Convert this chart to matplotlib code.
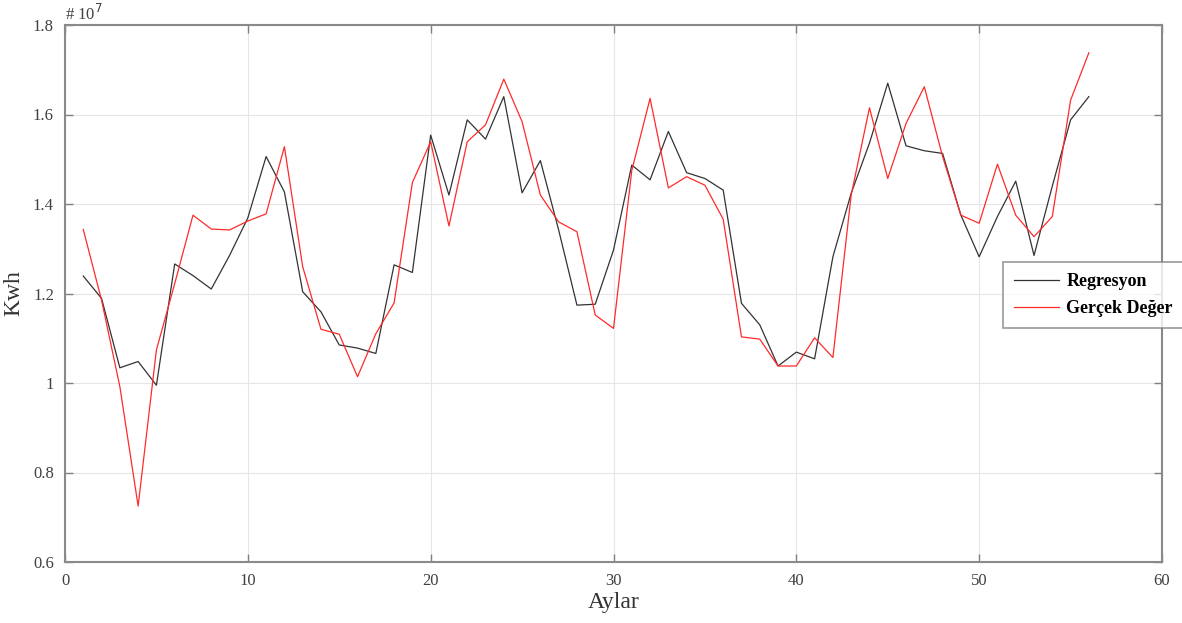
import matplotlib
matplotlib.use("Agg")
from matplotlib import pyplot as plt

aylar = list(range(1, 57))

regresyon = [1.239, 1.189, 1.034, 1.048, 0.995, 1.266, 1.240, 1.210, 1.285, 1.369,
             1.506, 1.427, 1.204, 1.159, 1.085, 1.078, 1.066, 1.264, 1.247, 1.554,
             1.420, 1.588, 1.545, 1.640, 1.425, 1.497, 1.342, 1.174, 1.176, 1.297,
             1.487, 1.454, 1.562, 1.470, 1.457, 1.431, 1.178, 1.130, 1.038, 1.069,
             1.054, 1.282, 1.424, 1.536, 1.670, 1.530, 1.519, 1.513, 1.375, 1.282,
             1.372, 1.451, 1.285, 1.440, 1.588, 1.640]

gercek = [1.343, 1.185, 0.992, 0.725, 1.074, 1.222, 1.375, 1.344, 1.342, 1.362,
          1.378, 1.528, 1.260, 1.120, 1.109, 1.014, 1.110, 1.179, 1.448, 1.539,
          1.351, 1.539, 1.577, 1.679, 1.584, 1.420, 1.360, 1.338, 1.152, 1.122,
          1.475, 1.636, 1.436, 1.461, 1.442, 1.366, 1.103, 1.098, 1.038, 1.038,
          1.101, 1.057, 1.420, 1.615, 1.457, 1.580, 1.662, 1.506, 1.375, 1.357,
          1.489, 1.375, 1.327, 1.372, 1.632, 1.738]

x_ticks = [0, 10, 20, 30, 40, 50, 60]
y_ticks = [0.6, 0.8, 1.0, 1.2, 1.4, 1.6, 1.8]
y_labels = ['0.6', '0.8', '1', '1.2', '1.4', '1.6', '1.8']

plt.rcParams['font.family'] = ['Liberation Serif', 'DejaVu Serif']

fig = plt.figure(figsize=(11.82, 6.23), dpi=100)
ax = fig.add_axes([65 / 1182, 61 / 623, 1097 / 1182, 537 / 623])

ax.plot(aylar, regresyon, color='#333333', linewidth=0.9, label='Regresyon')
ax.plot(aylar, gercek, color='#ff2a2a', linewidth=0.9, label='Gerçek Değer')

ax.set_xlim(0, 60)
ax.set_ylim(0.6, 1.8)
ax.set_xticks(x_ticks)
ax.set_yticks(y_ticks)
ax.set_yticklabels(y_labels)
ax.grid(True, color='#e6e6e6', linewidth=0.8)
ax.tick_params(direction='in', top=True, right=True, length=6, width=1,
               color='#808080', labelcolor='#404040', labelsize=12)
ax.tick_params(axis='x', pad=8)
ax.tick_params(axis='y', pad=8)
for s in ax.spines.values():
    s.set_color('#8a8a8a')
    s.set_linewidth(1.5)

ax.set_xlabel('Aylar', fontsize=17, color='#333333', labelpad=2)
ax.set_ylabel('Kwh', fontsize=17, color='#333333', labelpad=6)
ax.text(0, 1.802, '# 10$^{7}$', fontsize=12, color='#404040',
        ha='left', va='bottom')

leg = ax.legend(loc='lower left', bbox_to_anchor=(1003 / 1182, 295 / 623),
                bbox_transform=fig.transFigure, fancybox=False,
                borderaxespad=0, prop={'weight': 'bold', 'size': 13},
                handlelength=2.5, borderpad=0.6, labelspacing=0.55,
                handletextpad=0.4)
leg.get_frame().set_edgecolor('#808080')
leg.get_frame().set_linewidth(1.2)

fig.savefig('out.png', dpi=100)
